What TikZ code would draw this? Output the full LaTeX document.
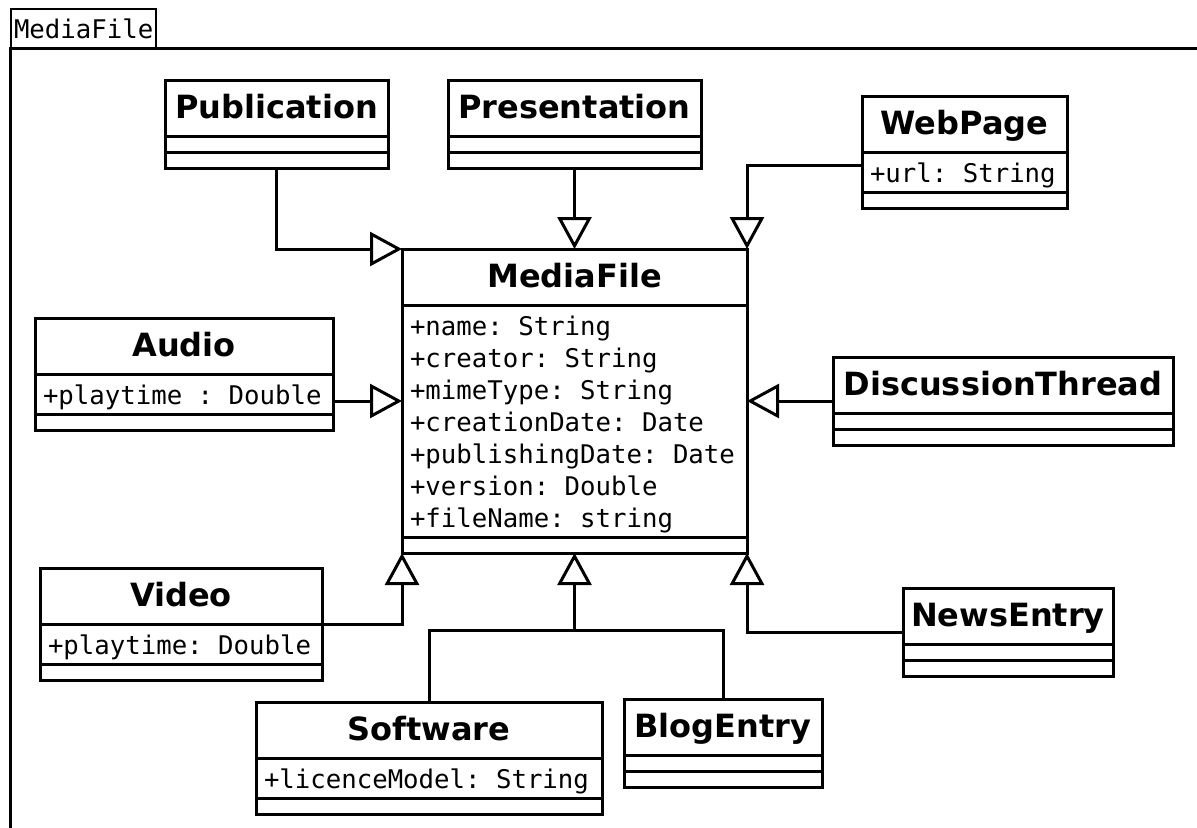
\documentclass[tikz,border=0pt]{standalone}
\usepackage{fontspec}
\setsansfont{DejaVu Sans}
\setmonofont{DejaVu Sans Mono}
\usetikzlibrary{shapes.multipart,arrows.meta}
\newcommand{\classname}[2]{\makebox[#1]{\rule[-8pt]{0pt}{26.5pt}\fontsize{16pt}{19pt}\sffamily\bfseries #2}}
\newcommand{\classattr}[2]{\parbox[t]{#1}{\fontsize{12.85pt}{16pt}\ttfamily\selectfont\raggedright\leftskip=4pt\rule{0pt}{14.25pt}#2\rule[-4.25pt]{0pt}{0pt}}}
\newcommand{\emptypart}{\rule{0pt}{6.5pt}}

\begin{document}
\begin{tikzpicture}[x=0.5pt,y=-0.5pt,
	umlclass/.style={rectangle split,rectangle split parts=3,draw,line width=1.5pt,inner sep=0pt,outer sep=0pt,anchor=north west},
	generalization/.style={-{Triangle[open,length=16pt,width=17pt]},line width=1.5pt,line join=miter}]
	\useasboundingbox (0,0) rectangle (1197,827);
	\clip (0,0) rectangle (1197,827);
	% package frame
	\draw[line width=1.5pt] (1230,48) -- (10,48) -- (10,860);
	\node[draw,line width=1pt,anchor=north west,inner xsep=1.5pt,inner ysep=0pt,minimum height=19.5pt,font=\fontsize{12.85pt}{15pt}\ttfamily\selectfont] (tab) at (10,8) {MediaFile};
	% classes without attributes
	\foreach \cls/\w/\x/\y in {Publication/111.5pt/165/80,Presentation/126.5pt/448/80,DiscussionThread/170pt/833/357,BlogEntry/99pt/624/699,NewsEntry/105pt/903/588}{
		\node[umlclass] (\cls) at (\x,\y) {\classname{\w}{\cls}\nodepart{two}\emptypart\nodepart{three}\emptypart};}
	% classes with one attribute
	\foreach \cls/\w/\x/\y/\a in {WebPage/102.5pt/862/96/+url: String,Audio/149pt/35/318/+playtime : Double,Video/141pt/40/568/+playtime: Double,Software/173pt/256/702/+licenceModel: String}{
		\node[umlclass] (\cls) at (\x,\y) {\classname{\w}{\cls}\nodepart{two}\classattr{\w}{\a}\nodepart{three}\emptypart};}
	\node[umlclass] (MediaFile) at (402,249) {\classname{172.5pt}{MediaFile}\nodepart{two}\classattr{172.5pt}{+name: String\\+creator: String\\+mimeType: String\\+creationDate: Date\\+publishingDate: Date\\+version: Double\\+fileName: string}\nodepart{three}\emptypart};
	% generalizations
	\draw[generalization] (Publication.south) |- (MediaFile.north west);
	\draw[generalization] (Presentation.south) -- (MediaFile.north);
	\draw[generalization] ([yshift=-34.5pt]WebPage.north west) -| (MediaFile.north east);
	\draw[generalization] (Audio.east |- MediaFile.west) -- (MediaFile.west);
	\draw[generalization] (DiscussionThread.west) -- (DiscussionThread.west -| MediaFile.east);
	\draw[generalization] (Video.east) -| (MediaFile.south west);
	\coordinate (junction) at ([yshift=-38.5pt]MediaFile.south);
	\draw[line width=1.5pt] (Software.north) |- (junction) -| (BlogEntry.north);
	\draw[generalization] (junction) -- (MediaFile.south);
	\draw[generalization] (NewsEntry.west) -| (MediaFile.south east);
\end{tikzpicture}
\end{document}
